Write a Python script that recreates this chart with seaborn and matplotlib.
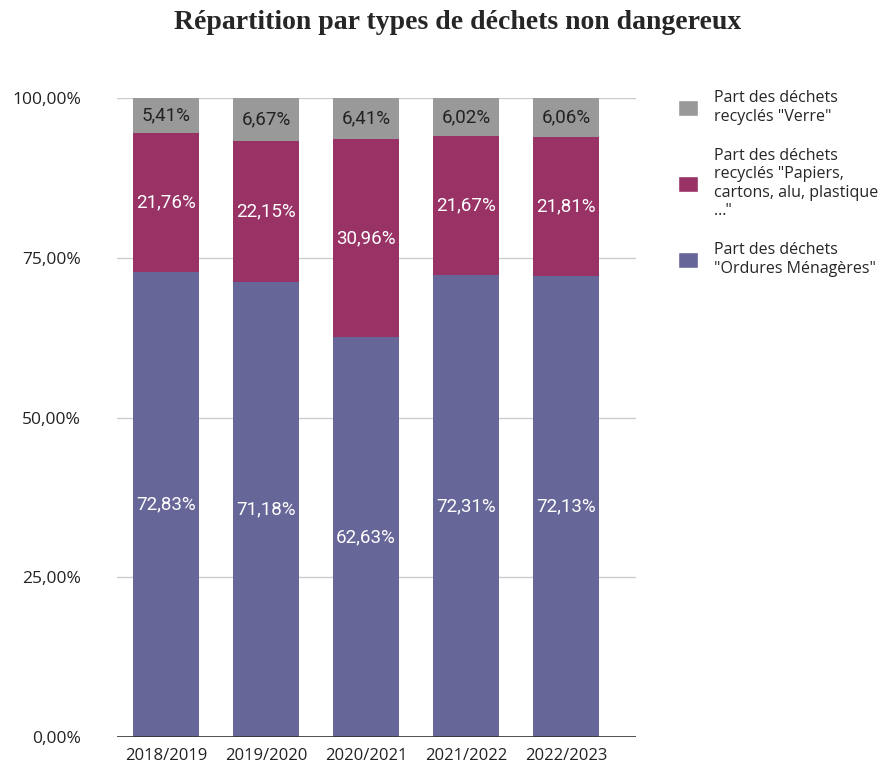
import seaborn as sns
import matplotlib.pyplot as plt
import numpy as np
import pandas as pd
from matplotlib.patches import Patch
from matplotlib.ticker import FuncFormatter

# data
years = ['2018/2019', '2019/2020', '2020/2021', '2021/2022', '2022/2023']
ordures = [72.83, 71.18, 62.63, 72.31, 72.13]
papiers = [21.76, 22.15, 30.96, 21.67, 21.81]
verre = [5.41, 6.67, 6.41, 6.02, 6.06]

labels = ['Part des déchets\nrecyclés "Verre"',
          'Part des déchets\nrecyclés "Papiers,\ncartons, alu, plastique\n…"',
          'Part des déchets\n"Ordures Ménagères"']
colors = ['#999999', '#993366', '#666699']

df = pd.DataFrame({'annee': years, 'ordures': ordures, 'papiers': papiers, 'verre': verre})
df['cum_papiers'] = df['ordures'] + df['papiers']
df['cum_verre'] = df['cum_papiers'] + df['verre']

sns.set_style('white')
plt.rcParams['font.family'] = ['Open Sans', 'DejaVu Sans']

fig = plt.figure(figsize=(8.92, 7.66), dpi=100)
ax = fig.add_axes([117 / 892, 1 - 737 / 766, (636 - 117) / 892, (737 - 98) / 766])

# stacked bars: draw cumulative totals from the top down
for col, c in zip(['cum_verre', 'cum_papiers', 'ordures'], colors):
    sns.barplot(data=df, x='annee', y=col, color=c, width=0.66, saturation=1, linewidth=0, ax=ax, zorder=3)

# value labels in the middle of each segment
for i in range(len(years)):
    ax.text(i, ordures[i] / 2, f'{ordures[i]:.2f}%'.replace('.', ','), ha='center', va='center',
            color='white', fontsize=13.5, family='Roboto', zorder=4)
    ax.text(i, ordures[i] + papiers[i] / 2, f'{papiers[i]:.2f}%'.replace('.', ','), ha='center', va='center',
            color='white', fontsize=13.5, family='Roboto', zorder=4)
    ax.text(i, df['cum_papiers'][i] + verre[i] / 2, f'{verre[i]:.2f}%'.replace('.', ','), ha='center', va='center',
            color='#222222', fontsize=13.5, family='Roboto', zorder=4)

ax.set_ylim(0, 100)
ax.set_xlim(-0.49, 4.7)
ax.set_yticks([0, 25, 50, 75, 100])
ax.yaxis.set_major_formatter(FuncFormatter(lambda v, p: f'{v:.2f}%'.replace('.', ',')))
ax.grid(axis='y', color='#cccccc', linewidth=1, zorder=0)
ax.axhline(0, color='#333333', linewidth=1.2, zorder=5)
for s in ax.spines.values():
    s.set_visible(False)
ax.set_xlabel('')
ax.set_ylabel('')
ax.tick_params(axis='both', length=0, labelsize=12.5, colors='#222222')
ax.tick_params(axis='y', pad=26)
ax.tick_params(axis='x', labelsize=12, pad=8)

handles = [Patch(facecolor=c, label=l) for c, l in zip(colors, labels)]
fig.legend(handles=handles, loc='upper left', bbox_to_anchor=(672 / 892, 1 - 84 / 766), frameon=False,
           fontsize=11.5, handlelength=1.2, handleheight=1.2, handletextpad=1.0, labelspacing=1.45,
           borderaxespad=0)

fig.suptitle('Répartition par types de déchets non dangereux', x=458 / 892, y=1 - 10 / 766, va='top',
             fontsize=20, fontweight='bold', family='Liberation Serif')

fig.savefig('out.png', dpi=100)
